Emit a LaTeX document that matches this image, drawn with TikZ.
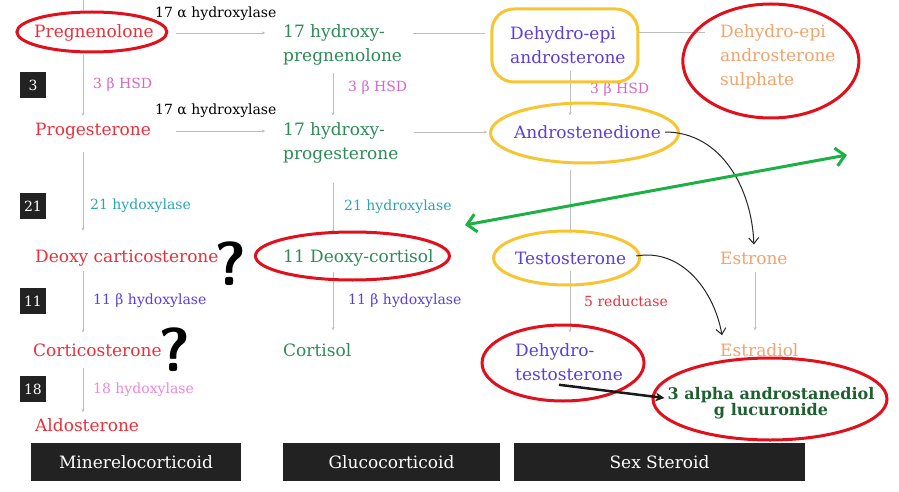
\documentclass[tikz,border=0pt]{standalone}
\usepackage{fontspec}
\setmainfont{DejaVu Serif}
\usetikzlibrary{arrows.meta,calc,shapes.misc}
\definecolor{cred}{HTML}{E8303A}
\definecolor{cgreen}{HTML}{2E8B57}
\definecolor{cpurple}{HTML}{5B3FD6}
\definecolor{corange}{HTML}{F2A36E}
\definecolor{cpink}{HTML}{D865C8}
\definecolor{cpinkb}{HTML}{EE88D8}
\definecolor{cteal}{HTML}{2AA5B5}
\definecolor{cline}{HTML}{BDBDBD}
\definecolor{hred}{HTML}{E0101C}
\definecolor{hyellow}{HTML}{F7C531}
\definecolor{hgreen}{HTML}{1DB045}
\definecolor{boxblack}{HTML}{222222}
\definecolor{dgreen}{HTML}{1F6030}
\begin{document}
\begin{tikzpicture}[x=1pt,y=-1pt,
  mol/.style={anchor=west, inner sep=0pt, font=\fontsize{17}{24}\selectfont, align=left},
  enz/.style={anchor=west, inner sep=0pt, font=\fontsize{14}{16}\selectfont},
  numbox/.style={fill=boxblack, text=white, minimum width=26pt, minimum height=26pt, inner sep=0pt, font=\fontsize{14}{16}\selectfont},
  barbox/.style={fill=boxblack, text=white, minimum height=38pt, inner sep=0pt, font=\fontsize{17}{20}\selectfont},
  conn/.style={draw=cline, line width=0.8pt, -{Stealth[length=3pt,width=3pt]}},
  plainline/.style={draw=cline, line width=0.8pt},
  redloop/.style={draw=hred, line width=3pt},
  yelloop/.style={draw=hyellow, line width=3pt},
  qmark/.style={inner sep=0pt, font=\fontsize{62}{62}\selectfont\sffamily\bfseries}
]
\useasboundingbox[fill=white] (0,0) rectangle (899,492);

% columns
\coordinate (c1) at (83,0);
\coordinate (c2) at (333,0);
\coordinate (c3) at (570,0);
\coordinate (c4) at (755,0);
\coordinate (topc) at (83,0);

% molecules
\node[mol, text=cred] (preg) at (34,33) {Pregnenolone};
\node[mol, text=cgreen] (hp) at (283,45) {17 hydroxy-\\pregnenolone};
\node[mol, text=cpurple] (dhea) at (510,45) {Dehydro-epi\\androsterone};
\node[mol, text=corange] (dheas) at (720,57) {Dehydro-epi\\androsterone\\sulphate};
\node[mol, text=cred] (prog) at (35,131) {Progesterone};
\node[mol, text=cgreen] (hprog) at (283,143) {17 hydroxy-\\progesterone};
\node[mol, text=cpurple] (andro) at (514,132) {Androstenedione};
\node[mol, text=cred] (doc) at (35,258) {Deoxy carticosterone};
\node[mol, text=cgreen] (dcort) at (283,258) {11 Deoxy-cortisol};
\node[mol, text=cpurple] (testo) at (515,258) {Testosterone};
\node[mol, text=corange] (estrone) at (720,258) {Estrone};
\node[mol, text=cred] (cortico) at (33,350) {Corticosterone};
\node[mol, text=cgreen] (cortisol) at (283,350) {Cortisol};
\node[mol, text=cpurple] (dht) at (515,362) {Dehydro-\\testosterone};
\node[mol, text=corange] (estradiol) at (720,350) {Estradiol};
\node[mol, text=cred] (aldo) at (35,425) {Aldosterone};
\node[inner sep=0pt, align=center, text=dgreen, font=\fontsize{16}{15}\selectfont\bfseries] (gluc) at (771,403) {3 alpha androstanediol\\g lucuronide};

% enzyme labels
\node[enz, text=black] (l1) at (155,14) {17 α hydroxylase};
\node[enz, text=black] (l2) at (155,111) {17 α hydroxylase};
\node[enz, text=cpink] (hsda) at (93,85) {3 β HSD};
\node[enz, text=cpink] (hsdb) at (348,88) {3 β HSD};
\node[enz, text=cpink] (hsdc) at (590,90) {3 β HSD};
\node[enz, text=cteal] (h21a) at (90,206) {21 hydoxylase};
\node[enz, text=cteal] (h21b) at (344,207) {21 hydroxylase};
\node[enz, text=cpurple] (h11a) at (93,301) {11 β hydoxylase};
\node[enz, text=cpurple] (h11b) at (348,301) {11 β hydoxylase};
\node[enz, text=cpinkb] (h18) at (93,390) {18 hydoxylase};
\node[enz, text=cred] (red5) at (584,301) {5 reductase};

% number boxes
\node[numbox] (b3) at (33,85) {3};
\node[numbox] (b21) at (33,206) {21};
\node[numbox] (b11) at (33,301) {11};
\node[numbox] (b18) at (33,389) {18};

% bars
\node[barbox, minimum width=210pt] (bar1) at (136,462) {Minerelocorticoid};
\node[barbox, minimum width=217pt] (bar2) at (391.5,462) {Glucocorticoid};
\node[barbox, minimum width=291pt] (bar3) at (659.5,462) {Sex Steroid};

% vertical connectors
\draw[plainline, shorten >=14pt] (topc) -- (preg.north -| topc);
\draw[conn, shorten <=13pt, shorten >=7pt] (preg.south -| c1) -- (prog.north -| c1);
\draw[conn, shorten <=13pt, shorten >=19pt] (prog.south -| c1) -- (doc.north -| c1);
\draw[conn, shorten <=5pt, shorten >=11pt] (doc.south -| c1) -- (cortico.north -| c1);
\draw[conn, shorten <=11pt, shorten >=6pt] (cortico.south -| c1) -- (aldo.north -| c1);

\draw[conn, shorten <=7pt, shorten >=7pt] (hp.south -| c2) -- (hprog.north -| c2);
\draw[conn, shorten <=19pt, shorten >=17pt] (hprog.south -| c2) -- (dcort.north -| c2);
\draw[conn, shorten <=5pt, shorten >=13pt] (dcort.south -| c2) -- (cortisol.north -| c2);

\draw[conn, shorten <=7pt, shorten >=10pt] (dhea.south -| c3) -- (andro.north -| c3);
\draw[plainline, shorten <=31pt, shorten >=18pt] (andro.south -| c3) -- (testo.north -| c3);
\draw[conn, shorten <=6pt, shorten >=11pt] (testo.south -| c3) -- (dht.north -| c3);

\draw[conn, shorten <=7pt, shorten >=13pt] (estrone.south -| c4) -- (estradiol.north -| c4);

% horizontal connectors
\draw[conn, shorten <=22pt, shorten >=18pt] (preg.east) -- (preg.east -| hp.west);
\draw[conn, shorten <=25pt, shorten >=18pt] (prog.east) -- (prog.east -| hprog.west);
\draw[plainline, shorten <=11pt, shorten >=25pt] ([yshift=12pt]hp.east) -- ([yshift=12pt]hp.east -| dhea.west);
\draw[conn, shorten <=15pt, shorten >=27pt] ([yshift=11pt]hprog.east) -- ([yshift=11pt]hprog.east -| andro.west);
\draw[plainline, shorten <=13pt, shorten >=15pt] ([yshift=13pt]dhea.east) -- ([yshift=13pt]dhea.east -| dheas.west);

% hand-drawn annotations
\draw[yelloop, rounded corners=22pt] ($(dhea.center)+(-76,-36)$) rectangle ($(dhea.center)+(70,37)$);
\draw[yelloop] ($(andro.center)+(-3,1)$) ellipse (94 and 30);
\draw[yelloop] ($(testo.center)+(-4,0)$) ellipse (73 and 27);
\draw[redloop] ($(preg.center)+(-2,-1)$) ellipse (75 and 20);
\draw[redloop] ($(dheas.center)+(-7,4)$) ellipse (88 and 57);
\draw[redloop] ($(dcort.center)+(-6,-2)$) ellipse (97 and 24);
\draw[redloop] ($(dht.center)+(-6,1)$) ellipse (81 and 38);
\draw[redloop] ($(gluc.center)+(-1,-4)$) ellipse (117 and 41);

\node[qmark] (q1) at (231,264) {?};
\node[qmark] (q2) at (175,350) {?};

% curved arrows
\draw[black!85, line width=1pt, -{Straight Barb[length=6pt,width=10pt]}] ([xshift=4pt]andro.east) to[out=0, in=92] ([yshift=7pt]estrone.north);
\draw[black!85, line width=1pt, -{Straight Barb[length=6pt,width=10pt]}] ([xshift=10pt,yshift=2pt]testo.east) to[out=10, in=100] ([xshift=2pt,yshift=8pt]estradiol.north west);

% green double arrow
\coordinate (g1) at (465,225);
\coordinate (g2) at (847,155);
\draw[hgreen, line width=3pt, {Straight Barb[length=9pt,width=18pt]}-{Straight Barb[length=9pt,width=18pt]}] (g1) -- (g2);

% thick black arrow
\draw[black!90, line width=2.5pt, -{Stealth[length=9pt,width=9pt]}] ([xshift=-10pt,yshift=-4pt]dht.south) -- ([xshift=-3pt,yshift=5pt]gluc.west);
\end{tikzpicture}
\end{document}
